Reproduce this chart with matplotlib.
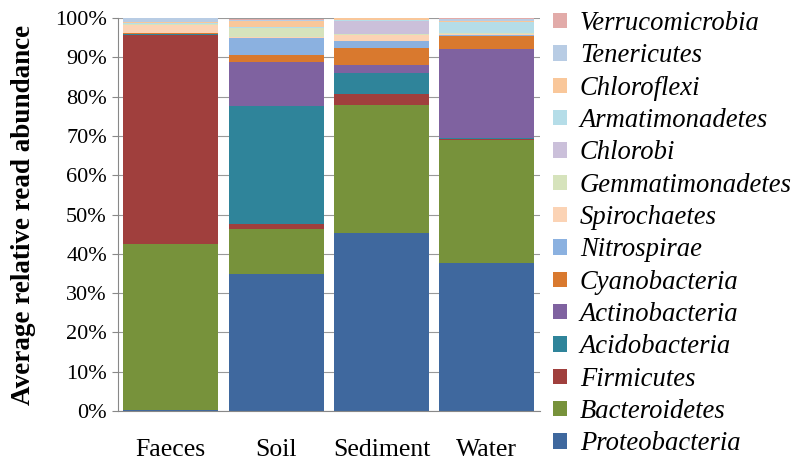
import numpy as np
import matplotlib.pyplot as plt
from matplotlib.patches import Patch

# samples and phyla (stack order, bottom to top)
samples = ['Faeces', 'Soil', 'Sediment', 'Water']
phyla = ['Proteobacteria', 'Bacteroidetes', 'Firmicutes', 'Acidobacteria',
         'Actinobacteria', 'Cyanobacteria', 'Nitrospirae', 'Spirochaetes',
         'Gemmatimonadetes', 'Chlorobi', 'Armatimonadetes', 'Chloroflexi',
         'Tenericutes', 'Verrucomicrobia']

# relative abundance in %, one list per phylum (Faeces, Soil, Sediment, Water)
proteobacteria = [0.3, 34.9, 45.2, 37.6]
bacteroidetes = [42.2, 11.4, 32.8, 31.4]
firmicutes = [53.3, 1.2, 2.8, 0.2]
acidobacteria = [0.1, 30.1, 5.3, 0.3]
actinobacteria = [0.1, 11.3, 1.9, 22.7]
cyanobacteria = [0.1, 1.7, 4.5, 3.2]
nitrospirae = [0.1, 4.3, 1.6, 0.3]
spirochaetes = [2.1, 0.3, 1.5, 0.2]
gemmatimonadetes = [0.1, 2.2, 0.3, 0.2]
chlorobi = [0.2, 0.2, 3.4, 0.2]
armatimonadetes = [0.1, 0.2, 0.2, 2.8]
chloroflexi = [0.2, 1.5, 0.5, 0.2]
tenericutes = [1.8, 0.2, 0.2, 0.4]
verrucomicrobia = [0.5, 0.2, 0.2, 0.9]

values = [proteobacteria, bacteroidetes, firmicutes, acidobacteria,
          actinobacteria, cyanobacteria, nitrospirae, spirochaetes,
          gemmatimonadetes, chlorobi, armatimonadetes, chloroflexi,
          tenericutes, verrucomicrobia]

colors = ['#3F689E', '#77923B', '#A03F3D', '#2F849A', '#7F62A0', '#D9792E',
          '#8BB1E0', '#FBD3B5', '#D6E3BC', '#CBC0DA', '#B5DDE8', '#F9C79A',
          '#B8CCE4', '#E2ABA9']

plt.rcParams['font.family'] = 'serif'
plt.rcParams['font.serif'] = ['Liberation Serif', 'DejaVu Serif']

fig = plt.figure(figsize=(8, 4.66), dpi=100)
ax = fig.add_axes([0.1475, 0.118, 0.527, 0.843])

x = np.arange(len(samples))
bottom = np.zeros(len(samples))
for name, vals, c in zip(phyla, values, colors):
    ax.bar(x, vals, width=0.9, bottom=bottom, color=c, label=name, zorder=2)
    bottom += np.array(vals)

ax.set_ylim(0, 100)
ax.set_xlim(-0.5, len(samples) - 0.5)
ax.set_yticks(np.arange(0, 101, 10))
ax.set_yticklabels([f'{v}%' for v in range(0, 101, 10)])
ax.set_xticks(x)
ax.set_xticklabels(samples)
ax.tick_params(axis='y', labelsize=16, color='#888888', length=4, pad=4)
ax.tick_params(axis='x', labelsize=18.5, length=0, pad=20)
ax.yaxis.grid(True, color='#999999', linewidth=0.8, zorder=0)
ax.set_axisbelow(True)
for s in ['top', 'right']:
    ax.spines[s].set_visible(False)
for s in ['left', 'bottom']:
    ax.spines[s].set_color('#888888')

ax.set_ylabel('Average relative read abundance', fontsize=19.5,
              fontweight='bold', labelpad=14)

handles = [Patch(facecolor=c, label=n) for n, c in zip(phyla, colors)][::-1]
fig.legend(handles=handles, loc='upper left', bbox_to_anchor=(0.6775, 0.999),
           frameon=False, prop={'style': 'italic', 'size': 19.2},
           handlelength=0.52, handleheight=0.52, handletextpad=0.5,
           labelspacing=0.275, borderaxespad=0)

fig.savefig('out.png', dpi=100)
